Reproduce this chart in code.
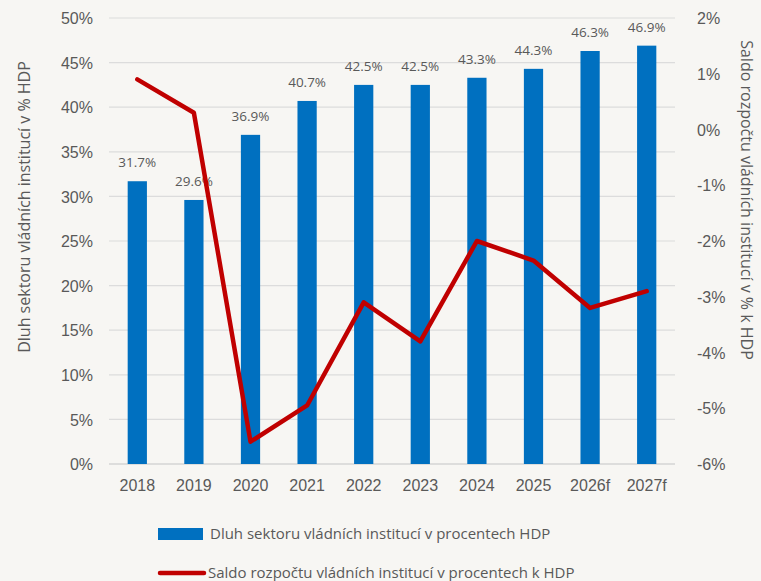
<!DOCTYPE html>
<html>
<head>
<meta charset="utf-8">
<script src="https://cdn.jsdelivr.net/npm/d3@7"></script>
<style>
  body { margin: 0; background: #f7f6f3; }
  svg { display: block; font-family: 'Open Sans', sans-serif; }
  .axis path { display: none; }
  .axis line { display: none; }
  .axis text { fill: #595959; font-size: 16px; }
</style>
</head>
<body>
<svg id="root" width="761" height="581"></svg>
<script>
const d3v = window.d3

const width = 761
const height = 581

// data
const years = ['2018', '2019', '2020', '2021', '2022', '2023', '2024', '2025', '2026f', '2027f']
const debt = [31.7, 29.6, 36.9, 40.7, 42.5, 42.5, 43.3, 44.3, 46.3, 46.9]
const balance = [0.9, 0.3, -5.6, -4.95, -3.1, -3.8, -2.0, -2.35, -3.2, -2.9]
const leftTicks = [0, 5, 10, 15, 20, 25, 30, 35, 40, 45, 50]
const rightTicks = [2, 1, 0, -1, -2, -3, -4, -5, -6]
const debtName = 'Dluh sektoru vládních institucí v procentech HDP'
const balanceName = 'Saldo rozpočtu vládních institucí v procentech k HDP'

const plot = { left: 109, right: 675, top: 18, bottom: 464 }

const svg = d3v.select('#root')

svg.append('rect')
  .attr('width', width)
  .attr('height', height)
  .attr('fill', '#f7f6f3')

// scales
const xScale = d3v.scaleBand()
  .domain(years)
  .range([plot.left, plot.right])
  .paddingInner(0.66)
  .paddingOuter(0.33)

const yLeft = d3v.scaleLinear()
  .domain([0, 50])
  .range([plot.bottom, plot.top])

const yRight = d3v.scaleLinear()
  .domain([-6, 2])
  .range([plot.bottom, plot.top])

// gridlines
svg.append('g')
  .selectAll('line')
  .data(leftTicks)
  .enter()
  .append('line')
  .attr('x1', plot.left)
  .attr('x2', plot.right)
  .attr('y1', d => yLeft(d))
  .attr('y2', d => yLeft(d))
  .attr('stroke', d => d === 0 ? '#d4d4d4' : '#dcdcdc')
  .attr('stroke-width', d => d === 0 ? 1.5 : 1.2)

// axes
svg.append('g')
  .attr('class', 'axis')
  .attr('transform', `translate(${plot.left - 13}, 0)`)
  .call(d3v.axisLeft(yLeft).tickValues(leftTicks).tickSize(0).tickFormat(d => d + '%'))
  .selectAll('text')
  .attr('dy', '0.35em')

svg.append('g')
  .attr('class', 'axis')
  .attr('transform', `translate(${plot.right + 19}, 0)`)
  .call(d3v.axisRight(yRight).tickValues(rightTicks).tickSize(0).tickFormat(d => d + '%'))
  .selectAll('text')
  .attr('dy', '0.35em')

svg.append('g')
  .attr('class', 'axis')
  .attr('transform', `translate(0, ${plot.bottom + 13})`)
  .call(d3v.axisBottom(xScale).tickSize(0))
  .selectAll('text')
  .attr('dy', '0.71em')

// bars
svg.selectAll('rect.bar')
  .data(debt)
  .enter()
  .append('rect')
  .attr('class', 'bar')
  .attr('x', (d, i) => xScale(years[i]))
  .attr('y', d => yLeft(d))
  .attr('width', xScale.bandwidth())
  .attr('height', d => plot.bottom - yLeft(d))
  .attr('fill', '#0070c0')

// bar labels
svg.selectAll('text.bar-label')
  .data(debt)
  .enter()
  .append('text')
  .attr('class', 'bar-label')
  .attr('text-anchor', 'middle')
  .attr('x', (d, i) => xScale(years[i]) + xScale.bandwidth() / 2)
  .attr('y', d => yLeft(d) - 14)
  .attr('fill', '#595959')
  .attr('font-size', 13.5)
  .text(d => d.toFixed(1) + '%')

// balance line
const line = d3v.line()
  .x((d, i) => xScale(years[i]) + xScale.bandwidth() / 2)
  .y(d => yRight(d))

svg.append('path')
  .datum(balance)
  .attr('d', line)
  .attr('fill', 'none')
  .attr('stroke', '#c00000')
  .attr('stroke-width', 4.5)
  .attr('stroke-linecap', 'round')
  .attr('stroke-linejoin', 'round')

// axis titles
svg.append('text')
  .attr('transform', `translate(30, 207) rotate(-90)`)
  .attr('text-anchor', 'middle')
  .attr('fill', '#595959')
  .attr('font-size', 16)
  .text('Dluh sektoru vládních institucí v % HDP')

svg.append('text')
  .attr('transform', `translate(741, 200) rotate(90)`)
  .attr('text-anchor', 'middle')
  .attr('fill', '#595959')
  .attr('font-size', 16)
  .text('Saldo rozpočtu vládních institucí v % k HDP')

// legend
const legend = svg.append('g')

legend.append('rect')
  .attr('x', 158)
  .attr('y', 528)
  .attr('width', 45)
  .attr('height', 12)
  .attr('fill', '#0070c0')

legend.append('text')
  .attr('x', 210)
  .attr('y', 534)
  .attr('dy', '0.35em')
  .attr('fill', '#595959')
  .attr('font-size', 15)
  .text(debtName)

legend.append('line')
  .attr('x1', 160)
  .attr('x2', 204)
  .attr('y1', 573)
  .attr('y2', 573)
  .attr('stroke', '#c00000')
  .attr('stroke-width', 4.5)
  .attr('stroke-linecap', 'round')

legend.append('text')
  .attr('x', 208)
  .attr('y', 573)
  .attr('dy', '0.35em')
  .attr('fill', '#595959')
  .attr('font-size', 15)
  .text(balanceName)
</script>
</body>
</html>
